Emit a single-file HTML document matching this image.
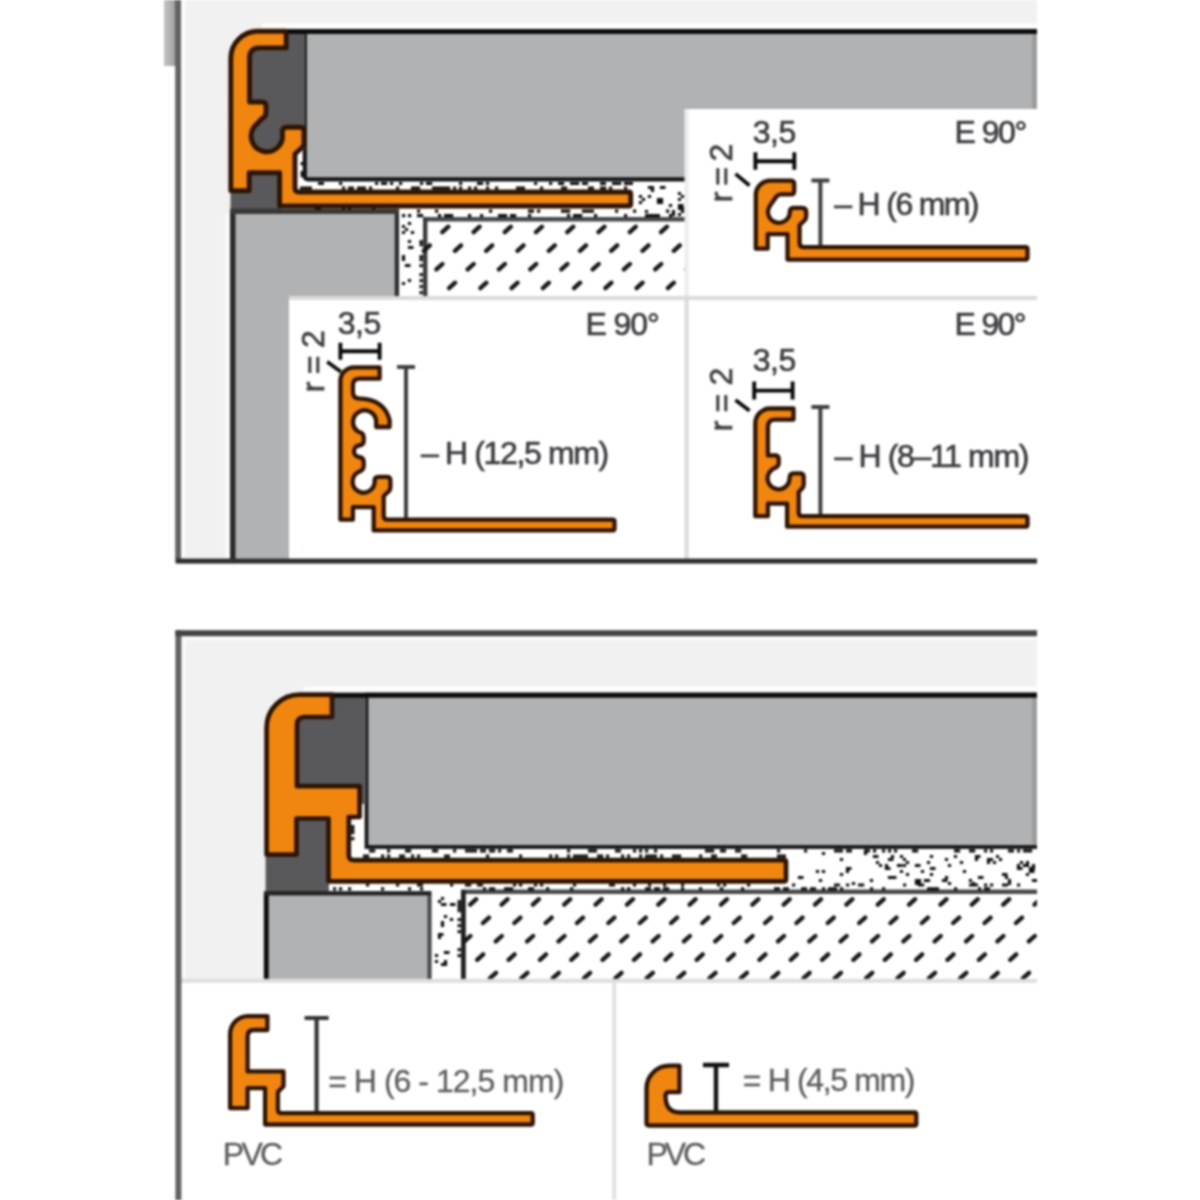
<!DOCTYPE html>
<html lang="en"><head><meta charset="utf-8"><title>Profile</title>
<style>
html,body{margin:0;padding:0;background:#fff;}
body{width:1200px;height:1200px;overflow:hidden;}
svg{display:block;}
text{font-family:"Liberation Sans",Arial,Helvetica,sans-serif;}
</style></head><body>
<svg width="1200" height="1200" viewBox="0 0 1200 1200">
<defs>
<linearGradient id="sh" x1="0" x2="1" y1="0" y2="0"><stop offset="0" stop-color="#c4c4c4"/><stop offset="0.6" stop-color="#a9a9a9"/><stop offset="1" stop-color="#6e6e6e"/></linearGradient>
<filter id="bl" color-interpolation-filters="sRGB" filterUnits="userSpaceOnUse" x="0" y="0" width="1200" height="1200"><feGaussianBlur stdDeviation="1.05"/></filter>
<clipPath id="c1"><rect x="179" y="0" width="858" height="561"/></clipPath>
<clipPath id="c2"><rect x="179" y="632" width="858" height="568"/></clipPath>
</defs>
<g filter="url(#bl)">
<rect width="1200" height="1200" fill="#fff"/>

<g id="top">
<rect x="179" y="0" width="858" height="561" fill="#f1f1f1"/>
<rect x="164" y="0" width="15" height="66" fill="url(#sh)"/>
<g clip-path="url(#c1)">
<path d="M296 148H306V181H700V300H398V208H296Z" fill="#fff"/>
<rect x="304.8" y="31" width="760" height="148.4" rx="3" fill="#b1b2b4" stroke="#161616" stroke-width="4.2"/>
<path d="M250 31H305V150H250Z" fill="#59595b"/>
<path d="M284 31.6H1040" stroke="#0c0c0c" stroke-width="5"/>
<path d="M262 25.8H1040" stroke="#fcfcfc" stroke-width="5"/>
<rect x="1032" y="34" width="6" height="76" fill="#000" opacity="0.13"/>
<path d="M230.5 172H281V211H230.5Z" fill="#59595b"/>
<rect x="225" y="214" width="5" height="346" fill="#fafafa"/>
<rect x="232.4" y="211" width="164.5" height="380" fill="#b1b2b4" stroke="#2e2e2e" stroke-width="4.4"/>
<path d="M232.8 211V561" stroke="#2a2a2a" stroke-width="5.4"/>
<path d="M230.2 211.4H399" stroke="#383838" stroke-width="5.4"/>
<path d="M423 219.2H700" fill="none" stroke="#484848" stroke-width="4.4"/>
<path d="M425.2 217V300" fill="none" stroke="#3a3a3a" stroke-width="4.4"/>
<path d="M442.3 232.1L448.3 226.7M473.6 232.1L479.6 226.7M504.8 232.1L510.8 226.7M536.0 232.1L542.0 226.7M567.3 232.1L573.3 226.7M598.5 232.1L604.5 226.7M629.8 232.1L635.8 226.7M661.0 232.1L667.0 226.7M423.8 250.8L429.8 245.4M455.0 250.8L461.0 245.4M486.2 250.8L492.2 245.4M517.5 250.8L523.5 245.4M548.8 250.8L554.8 245.4M580.0 250.8L586.0 245.4M611.2 250.8L617.2 245.4M642.5 250.8L648.5 245.4M673.8 250.8L679.8 245.4M436.4 269.4L442.4 264.0M467.7 269.4L473.7 264.0M498.9 269.4L504.9 264.0M530.2 269.4L536.2 264.0M561.4 269.4L567.4 264.0M592.7 269.4L598.7 264.0M623.9 269.4L629.9 264.0M655.2 269.4L661.2 264.0M686.4 269.4L692.4 264.0M449.1 288.1L455.1 282.7M480.4 288.1L486.4 282.7M511.6 288.1L517.6 282.7M542.9 288.1L548.9 282.7M574.1 288.1L580.1 282.7M605.4 288.1L611.4 282.7M636.6 288.1L642.6 282.7M667.9 288.1L673.9 282.7" stroke="#181818" stroke-width="4.3" stroke-linecap="round" fill="none"/>
<path d="M404.9 227.9h3.2v3.2h-3.2zM401.9 257.9h3.2v3.2h-3.2zM401.9 254.9h3.2v3.2h-3.2zM407.9 221.9h3.2v3.2h-3.2zM407.9 278.9h3.2v3.2h-3.2zM404.9 263.9h5.6v3.2h-5.6zM407.9 245.9h5.6v3.2h-5.6zM401.9 281.9h3.2v3.2h-3.2zM401.9 224.9h3.2v3.2h-3.2zM410.9 230.9h3.2v3.2h-3.2zM401.9 230.9h3.2v3.2h-3.2zM407.9 239.9h3.2v3.2h-3.2zM419.5 255.0h3.2v3.2h-3.2zM419.5 243.0h3.2v3.2h-3.2zM419.5 279.0h3.2v3.2h-3.2zM419.5 273.0h3.2v3.2h-3.2zM419.5 240.0h3.2v3.2h-3.2zM419.5 264.0h3.2v3.2h-3.2zM419.5 258.0h3.2v3.2h-3.2zM419.5 285.0h3.2v3.2h-3.2zM419.5 291.0h3.2v3.2h-3.2zM435.0 209.6h3.2v3.2h-3.2zM615.0 209.6h3.2v3.2h-3.2zM537.0 209.6h3.2v3.2h-3.2zM588.0 209.6h6.0v3.2h-6.0zM561.0 209.6h6.0v3.2h-6.0zM489.0 209.6h3.2v3.2h-3.2zM567.0 209.6h3.2v3.2h-3.2zM528.0 209.6h6.0v3.2h-6.0zM666.0 209.6h3.2v3.2h-3.2zM417.0 209.6h3.2v3.2h-3.2zM582.0 209.6h6.0v3.2h-6.0zM633.0 209.6h3.2v3.2h-3.2zM510.0 214.0h3.2v3.2h-3.2zM408.0 214.0h3.2v3.2h-3.2zM447.0 214.0h3.2v3.2h-3.2zM417.0 214.0h6.0v3.2h-6.0zM438.0 214.0h3.2v3.2h-3.2zM645.0 214.0h3.2v3.2h-3.2zM528.0 214.0h3.2v3.2h-3.2zM648.0 214.0h6.0v3.2h-6.0zM480.0 214.0h3.2v3.2h-3.2zM501.0 214.0h6.0v3.2h-6.0zM669.0 214.0h3.2v3.2h-3.2zM450.0 214.0h3.2v3.2h-3.2zM468.0 214.0h3.2v3.2h-3.2zM567.0 214.0h3.2v3.2h-3.2zM402.0 214.0h3.2v3.2h-3.2zM504.0 214.0h3.2v3.2h-3.2zM594.0 214.0h3.2v3.2h-3.2zM576.0 214.0h3.2v3.2h-3.2zM654.0 214.0h6.0v3.2h-6.0zM624.0 214.0h3.2v3.2h-3.2zM513.0 214.0h3.2v3.2h-3.2zM579.0 214.0h3.2v3.2h-3.2zM420.0 214.0h3.2v3.2h-3.2zM498.0 214.0h3.2v3.2h-3.2zM444.0 214.0h3.2v3.2h-3.2zM573.0 214.0h3.2v3.2h-3.2zM390.0 181.9h3.2v3.2h-3.2zM426.0 181.9h3.2v3.2h-3.2zM582.0 181.9h6.0v3.2h-6.0zM459.0 181.9h3.2v3.2h-3.2zM339.0 181.9h3.2v3.2h-3.2zM420.0 181.9h3.2v3.2h-3.2zM576.0 181.9h3.2v3.2h-3.2zM318.0 181.9h6.0v3.2h-6.0zM480.0 181.9h3.2v3.2h-3.2zM486.0 181.9h3.2v3.2h-3.2zM624.0 181.9h6.0v3.2h-6.0zM534.0 181.9h3.2v3.2h-3.2zM429.0 181.9h3.2v3.2h-3.2zM558.0 181.9h3.2v3.2h-3.2zM561.0 181.9h3.2v3.2h-3.2zM381.0 181.9h6.0v3.2h-6.0zM627.0 181.9h6.0v3.2h-6.0zM570.0 181.9h6.0v3.2h-6.0zM549.0 181.9h3.2v3.2h-3.2zM477.0 181.9h3.2v3.2h-3.2zM399.0 181.9h3.2v3.2h-3.2zM618.0 181.9h3.2v3.2h-3.2zM612.0 181.9h6.0v3.2h-6.0zM384.0 181.9h3.2v3.2h-3.2zM375.0 181.9h3.2v3.2h-3.2zM600.0 181.9h6.0v3.2h-6.0zM459.0 186.6h3.2v3.2h-3.2zM564.0 186.6h3.2v3.2h-3.2zM519.0 186.6h6.0v3.2h-6.0zM561.0 186.6h6.0v3.2h-6.0zM360.0 186.6h6.0v3.2h-6.0zM411.0 186.6h6.0v3.2h-6.0zM624.0 186.6h3.2v3.2h-3.2zM432.0 186.6h6.0v3.2h-6.0zM540.0 186.6h3.2v3.2h-3.2zM342.0 186.6h3.2v3.2h-3.2zM600.0 186.6h6.0v3.2h-6.0zM348.0 186.6h6.0v3.2h-6.0zM417.0 186.6h3.2v3.2h-3.2zM306.0 186.6h6.0v3.2h-6.0zM516.0 186.6h3.2v3.2h-3.2zM609.0 186.6h3.2v3.2h-3.2zM588.0 186.6h6.0v3.2h-6.0zM369.0 186.6h3.2v3.2h-3.2zM396.0 186.6h3.2v3.2h-3.2zM495.0 186.6h3.2v3.2h-3.2zM438.0 186.6h3.2v3.2h-3.2zM603.0 186.6h3.2v3.2h-3.2zM453.0 186.6h3.2v3.2h-3.2zM441.0 186.6h6.0v3.2h-6.0zM468.0 186.6h3.2v3.2h-3.2zM474.0 186.6h3.2v3.2h-3.2zM447.0 186.6h3.2v3.2h-3.2zM300.0 186.6h6.0v3.2h-6.0zM357.0 186.6h3.2v3.2h-3.2zM486.0 186.6h3.2v3.2h-3.2zM342.0 207.0h3.2v3.0h-3.2zM372.0 207.0h3.2v3.0h-3.2zM348.0 207.0h3.2v3.0h-3.2zM315.0 207.0h6.0v3.0h-6.0zM659.9 200.9h3.2v3.2h-3.2zM677.9 197.9h3.2v3.2h-3.2zM659.9 197.9h3.2v3.2h-3.2zM656.9 200.9h3.2v3.2h-3.2zM677.9 203.9h5.6v3.2h-5.6zM677.9 191.9h3.2v3.2h-3.2zM680.9 209.9h3.2v3.2h-3.2zM641.9 197.9h3.2v3.2h-3.2zM647.9 185.9h3.2v3.2h-3.2zM671.9 209.9h3.2v3.2h-3.2zM668.9 203.9h3.2v3.2h-3.2zM677.9 212.9h3.2v3.2h-3.2zM680.9 194.9h3.2v3.2h-3.2zM680.9 206.9h3.2v3.2h-3.2zM656.9 197.9h3.2v3.2h-3.2zM647.9 194.9h3.2v3.2h-3.2zM638.9 200.9h3.2v3.2h-3.2zM638.9 194.9h3.2v3.2h-3.2zM659.9 185.9h5.6v3.2h-5.6zM671.9 212.9h3.2v3.2h-3.2zM650.9 185.9h3.2v3.2h-3.2zM650.9 188.9h3.2v3.2h-3.2zM677.9 206.9h3.2v3.2h-3.2zM644.9 209.9h3.2v3.2h-3.2zM300.6 174.0h3.2v3.2h-3.2zM300.6 162.0h3.2v3.2h-3.2zM300.6 171.0h3.2v3.2h-3.2z" fill="#111"/>
<path d="M230.8 58 A27 27 0 0 1 258 31.2 H286.2 V47.9 H259.5 Q249.6 47.9 249.6 58 V102 H262 Q266 102 266 106 V112.5 Q266 117 262 118.5 L254 127 A15.7 15.7 0 1 0 282.4 134 V131 Q282.7 127.2 286.5 127.2 H300 Q304 127.2 304 131 V143 Q304 145.5 302 147.5 L295 154 V188 Q295 192 299 192 H629 Q630.7 192 630.7 194 V204 Q630.7 206 629 206 H279.6 V172.8 H249.2 V190.7 H230.8 Z" fill="#f0860f" stroke="#2e1402" stroke-width="4.9" stroke-linejoin="round"/>
</g>
<rect x="686" y="109" width="351" height="189" fill="#fff"/>
<rect x="289" y="298" width="748" height="261" fill="#fff"/>
<rect x="684.5" y="109" width="4.2" height="189" fill="#ededed"/>
<rect x="684.5" y="298" width="4.2" height="261" fill="#dcdcdc"/>
<rect x="289" y="296" width="748" height="4" fill="#dadada"/>
<rect x="181" y="0" width="4.5" height="557" fill="#fbfbfb"/>
<rect x="175.2" y="0" width="5.8" height="563" fill="#626262"/>
<rect x="176" y="558.6" width="861" height="5" fill="#2e2e2e"/>
<text x="954.50" y="143.0" font-size="32" textLength="72.70" lengthAdjust="spacing" fill="#3e3e40" stroke="#3e3e40" stroke-width="0.7">E 90°</text>
<text x="752.80" y="142.8" font-size="32" textLength="43.40" lengthAdjust="spacing" fill="#3e3e40" stroke="#3e3e40" stroke-width="0.7">3,5</text>
<path d="M755.4 161.2H794.3M755.4 152.2V169.7M794.3 152.2V169.7" stroke="#0a0a0a" stroke-width="3.9" fill="none"/>
<text transform="translate(731.5 202.20) rotate(-90)" font-size="32" textLength="58.50" lengthAdjust="spacing" fill="#3e3e40" stroke="#3e3e40" stroke-width="0.7">r = 2</text>
<path d="M735.5 173.8L749.5 185.5" stroke="#0a0a0a" stroke-width="3.6" fill="none"/>
<path d="M820.4 180V247.5M811.4 180.5H829.4" stroke="#404040" stroke-width="4.0" fill="none"/>
<text x="834.20" y="215.0" font-size="32" textLength="145.30" lengthAdjust="spacing" fill="#3e3e40" stroke="#3e3e40" stroke-width="0.7">– H (6 mm)</text>
<path d="M755.8 195 A14.5 14.5 0 0 1 770.3 180.6 H790.5 Q794.2 180.6 794.2 184 V191 Q794.2 194.4 791 194.4 H781 Q778.5 194.4 776.5 196.5 L770.6 204.8 A10.9 10.9 0 1 0 789.8 211.5 Q790 207.9 794 207.9 H802 Q806.2 207.9 806.2 212 V216 Q806.2 219 804 221 L799.6 225 V243 Q799.6 247.1 803.6 247.1 H1025.5 Q1027.5 247.1 1027.5 249 V257.6 Q1027.5 259.6 1025.5 259.6 H787.5 V234.2 H767.7 V248.7 H755.8 Z" fill="#f0860f" stroke="#2e1402" stroke-width="4.3" stroke-linejoin="round"/>
<text x="585.50" y="334.8" font-size="32" textLength="74.30" lengthAdjust="spacing" fill="#3e3e40" stroke="#3e3e40" stroke-width="0.7">E 90°</text>
<text x="337.80" y="334" font-size="32" textLength="43.40" lengthAdjust="spacing" fill="#3e3e40" stroke="#3e3e40" stroke-width="0.7">3,5</text>
<path d="M340.4 351.2H379.6M340.4 342.7V359.7M379.6 342.7V359.7" stroke="#0a0a0a" stroke-width="3.9" fill="none"/>
<text transform="translate(323.7 392.20) rotate(-90)" font-size="32" textLength="61.90" lengthAdjust="spacing" fill="#3e3e40" stroke="#3e3e40" stroke-width="0.7">r = 2</text>
<path d="M327.2 361.7L340.8 371.7" stroke="#0a0a0a" stroke-width="3.6" fill="none"/>
<path d="M406 366.5V520M397 367.0H415" stroke="#404040" stroke-width="4.0" fill="none"/>
<text x="421.10" y="463.5" font-size="32" textLength="188.00" lengthAdjust="spacing" fill="#3e3e40" stroke="#3e3e40" stroke-width="0.7">– H (12,5 mm)</text>
<path d="M340.4 381 A13.7 13.7 0 0 1 354 367.3 H379.6 V378.7 H360 Q352.9 378.7 352.9 385 V392 Q352.9 398.7 360 398.7 Q384 399.5 389.6 420 V427 H376.2 V421.5 A11.6 11.6 0 1 0 358 431.5 Q363.7 433 363.7 437 V441 Q363.7 445 359 445.5 A5.8 5.8 0 0 0 359 457 Q363.7 457.5 363.7 462 V466 Q363.7 470.5 357.5 472.5 A11 11 0 1 0 374.6 481 Q374.6 476.8 378.5 476.8 H387 Q390.4 476.8 390.4 480.5 V487.5 Q390.4 490 388.5 491.5 L383.7 496 V516 Q383.7 519.6 387.5 519.6 H612.5 Q614.5 519.6 614.5 521.5 V528.4 Q614.5 530.4 612.5 530.4 H373.7 V507.1 H352.9 V519.7 H340.4 Z" fill="#f0860f" stroke="#2e1402" stroke-width="4.3" stroke-linejoin="round"/>
<text x="954.50" y="334.8" font-size="32" textLength="72.00" lengthAdjust="spacing" fill="#3e3e40" stroke="#3e3e40" stroke-width="0.7">E 90°</text>
<text x="752.80" y="371.3" font-size="32" textLength="43.40" lengthAdjust="spacing" fill="#3e3e40" stroke="#3e3e40" stroke-width="0.7">3,5</text>
<path d="M754.2 390.6H792.6M754.2 381.6V399.6M792.6 381.6V399.6" stroke="#0a0a0a" stroke-width="3.9" fill="none"/>
<text transform="translate(731.5 431.30) rotate(-90)" font-size="32" textLength="63.50" lengthAdjust="spacing" fill="#3e3e40" stroke="#3e3e40" stroke-width="0.7">r = 2</text>
<path d="M735.5 400L749.5 410.8" stroke="#0a0a0a" stroke-width="3.6" fill="none"/>
<path d="M820.4 406.5V516M811.4 407.0H829.4" stroke="#404040" stroke-width="4.0" fill="none"/>
<text x="834.40" y="467.3" font-size="32" textLength="195.00" lengthAdjust="spacing" fill="#3e3e40" stroke="#3e3e40" stroke-width="0.7">– H (8–11 mm)</text>
<path d="M755.3 424 A15 15 0 0 1 770.3 408.5 H793.5 V419.6 H775 Q767.9 419.6 767.9 427 V455.4 H775 Q778.7 455.4 778.7 459 V463 Q778.7 467 773 468.8 A11 11 0 1 0 789.6 478 Q789.6 473.3 793.5 473.3 H800 Q803.7 473.3 803.7 477 V484.5 Q803.7 487 802 488.5 L798.7 492 V512.5 Q798.7 516.2 802.5 516.2 H1025.5 Q1027.5 516.2 1027.5 518 V524.7 Q1027.5 526.7 1025.5 526.7 H787.1 V503.7 H767.9 V516.2 H755.3 Z" fill="#f0860f" stroke="#2e1402" stroke-width="4.3" stroke-linejoin="round"/>
</g>
<g id="bottom">
<rect x="179" y="632" width="858" height="349" fill="#f1f1f1"/>
<g clip-path="url(#c2)">
<path d="M350 804H368V848H1040V981H431V895H329V860H350Z" fill="#fff"/>
<rect x="366.5" y="694.6" width="700" height="152.4" fill="#b1b2b4" stroke="#161616" stroke-width="3.8"/>
<path d="M297 694H366V804H297Z" fill="#59595b"/>
<path d="M330 695.2H1040" stroke="#0c0c0c" stroke-width="5"/>
<path d="M304 688.8H1040" stroke="#fcfcfc" stroke-width="5"/>
<rect x="1032" y="698" width="6" height="148" fill="#000" opacity="0.13"/>
<path d="M265.6 818H329V894H265.6Z" fill="#59595b"/>
<rect x="266" y="893.3" width="163.5" height="120" fill="#b1b2b4" stroke="#4a4a4a" stroke-width="4.2"/>
<path d="M266.3 893V981" stroke="#0c0c0c" stroke-width="4.8"/>
<path d="M264 893.3H431" stroke="#222" stroke-width="4"/>
<path d="M461 891.8H1040" fill="none" stroke="#484848" stroke-width="4.6"/>
<path d="M463.4 890V981" fill="none" stroke="#202020" stroke-width="4.8"/>
<path d="M470.2 904.6L476.2 899.2M501.6 904.6L507.6 899.2M532.9 904.6L538.9 899.2M564.2 904.6L570.2 899.2M595.6 904.6L601.6 899.2M627.0 904.6L633.0 899.2M658.3 904.6L664.3 899.2M689.6 904.6L695.6 899.2M721.0 904.6L727.0 899.2M752.4 904.6L758.4 899.2M783.7 904.6L789.7 899.2M815.0 904.6L821.0 899.2M846.4 904.6L852.4 899.2M877.8 904.6L883.8 899.2M909.1 904.6L915.1 899.2M940.5 904.6L946.5 899.2M971.8 904.6L977.8 899.2M1003.2 904.6L1009.2 899.2M1034.5 904.6L1040.5 899.2M483.0 923.0L489.0 917.6M514.4 923.0L520.4 917.6M545.7 923.0L551.7 917.6M577.0 923.0L583.0 917.6M608.4 923.0L614.4 917.6M639.8 923.0L645.8 917.6M671.1 923.0L677.1 917.6M702.4 923.0L708.4 917.6M733.8 923.0L739.8 917.6M765.1 923.0L771.1 917.6M796.5 923.0L802.5 917.6M827.8 923.0L833.8 917.6M859.2 923.0L865.2 917.6M890.5 923.0L896.5 917.6M921.9 923.0L927.9 917.6M953.2 923.0L959.2 917.6M984.6 923.0L990.6 917.6M1016.0 923.0L1022.0 917.6M464.4 941.4L470.4 936.0M495.8 941.4L501.8 936.0M527.1 941.4L533.1 936.0M558.5 941.4L564.5 936.0M589.9 941.4L595.9 936.0M621.2 941.4L627.2 936.0M652.6 941.4L658.6 936.0M683.9 941.4L689.9 936.0M715.2 941.4L721.2 936.0M746.6 941.4L752.6 936.0M778.0 941.4L784.0 936.0M809.3 941.4L815.3 936.0M840.6 941.4L846.6 936.0M872.0 941.4L878.0 936.0M903.4 941.4L909.4 936.0M934.7 941.4L940.7 936.0M966.1 941.4L972.1 936.0M997.4 941.4L1003.4 936.0M1028.8 941.4L1034.8 936.0M477.2 959.8L483.2 954.4M508.6 959.8L514.6 954.4M540.0 959.8L546.0 954.4M571.3 959.8L577.3 954.4M602.6 959.8L608.6 954.4M634.0 959.8L640.0 954.4M665.4 959.8L671.4 954.4M696.7 959.8L702.7 954.4M728.0 959.8L734.0 954.4M759.4 959.8L765.4 954.4M790.8 959.8L796.8 954.4M822.1 959.8L828.1 954.4M853.4 959.8L859.4 954.4M884.8 959.8L890.8 954.4M916.1 959.8L922.1 954.4M947.5 959.8L953.5 954.4M978.9 959.8L984.9 954.4M1010.2 959.8L1016.2 954.4M490.0 978.2L496.0 972.8M521.4 978.2L527.4 972.8M552.8 978.2L558.8 972.8M584.1 978.2L590.1 972.8M615.5 978.2L621.5 972.8M646.8 978.2L652.8 972.8M678.2 978.2L684.2 972.8M709.5 978.2L715.5 972.8M740.9 978.2L746.9 972.8M772.2 978.2L778.2 972.8M803.6 978.2L809.6 972.8M834.9 978.2L840.9 972.8M866.2 978.2L872.2 972.8M897.6 978.2L903.6 972.8M929.0 978.2L935.0 972.8M960.3 978.2L966.3 972.8M991.7 978.2L997.7 972.8M1023.0 978.2L1029.0 972.8" stroke="#181818" stroke-width="4.3" stroke-linecap="round" fill="none"/>
<path d="M440.9 902.9h5.6v3.2h-5.6zM443.9 959.9h3.2v3.2h-3.2zM449.9 902.9h5.6v3.2h-5.6zM440.9 923.9h3.2v3.2h-3.2zM449.9 917.9h3.2v3.2h-3.2zM443.9 914.9h3.2v3.2h-3.2zM437.9 899.9h3.2v3.2h-3.2zM440.9 920.9h3.2v3.2h-3.2zM437.9 935.9h3.2v3.2h-3.2zM440.9 896.9h3.2v3.2h-3.2zM434.9 953.9h3.2v3.2h-3.2zM437.9 932.9h5.6v3.2h-5.6zM434.9 959.9h3.2v3.2h-3.2zM443.9 962.9h3.2v3.2h-3.2zM443.9 950.9h5.6v3.2h-5.6zM440.9 962.9h3.2v3.2h-3.2zM457.6 948.0h3.2v3.2h-3.2zM457.6 930.0h3.2v3.2h-3.2zM457.6 924.0h3.2v3.2h-3.2zM457.6 900.0h3.2v3.2h-3.2zM457.6 906.0h3.2v3.2h-3.2zM457.6 903.0h3.2v3.2h-3.2zM457.6 954.0h3.2v3.2h-3.2zM457.6 918.0h3.2v3.2h-3.2zM457.6 909.0h3.2v3.2h-3.2zM405.0 849.2h6.0v3.2h-6.0zM735.0 849.2h3.2v3.2h-3.2zM489.0 849.2h3.2v3.2h-3.2zM492.0 849.2h3.2v3.2h-3.2zM435.0 849.2h3.2v3.2h-3.2zM480.0 849.2h6.0v3.2h-6.0zM777.0 849.2h3.2v3.2h-3.2zM471.0 849.2h6.0v3.2h-6.0zM498.0 849.2h3.2v3.2h-3.2zM369.0 849.2h3.2v3.2h-3.2zM567.0 849.2h3.2v3.2h-3.2zM453.0 849.2h3.2v3.2h-3.2zM372.0 849.2h3.2v3.2h-3.2zM408.0 849.2h3.2v3.2h-3.2zM387.0 849.2h3.2v3.2h-3.2zM468.0 849.2h3.2v3.2h-3.2zM591.0 849.2h6.0v3.2h-6.0zM645.0 849.2h3.2v3.2h-3.2zM738.0 849.2h3.2v3.2h-3.2zM507.0 849.2h6.0v3.2h-6.0zM432.0 849.2h3.2v3.2h-3.2zM639.0 849.2h3.2v3.2h-3.2zM720.0 849.2h6.0v3.2h-6.0zM633.0 849.2h3.2v3.2h-3.2zM711.0 849.2h3.2v3.2h-3.2zM588.0 849.2h3.2v3.2h-3.2zM705.0 849.2h6.0v3.2h-6.0zM615.0 849.2h6.0v3.2h-6.0zM654.0 849.2h3.2v3.2h-3.2zM465.0 849.2h3.2v3.2h-3.2zM411.0 854.6h3.2v3.2h-3.2zM399.0 854.6h6.0v3.2h-6.0zM597.0 854.6h3.2v3.2h-3.2zM627.0 854.6h3.2v3.2h-3.2zM567.0 854.6h3.2v3.2h-3.2zM699.0 854.6h3.2v3.2h-3.2zM573.0 854.6h3.2v3.2h-3.2zM639.0 854.6h3.2v3.2h-3.2zM675.0 854.6h3.2v3.2h-3.2zM387.0 854.6h3.2v3.2h-3.2zM672.0 854.6h3.2v3.2h-3.2zM777.0 854.6h3.2v3.2h-3.2zM519.0 854.6h3.2v3.2h-3.2zM651.0 854.6h6.0v3.2h-6.0zM621.0 854.6h3.2v3.2h-3.2zM417.0 854.6h3.2v3.2h-3.2zM678.0 854.6h3.2v3.2h-3.2zM600.0 854.6h3.2v3.2h-3.2zM381.0 854.6h3.2v3.2h-3.2zM645.0 854.6h3.2v3.2h-3.2zM648.0 854.6h3.2v3.2h-3.2zM579.0 854.6h3.2v3.2h-3.2zM555.0 854.6h3.2v3.2h-3.2zM741.0 854.6h3.2v3.2h-3.2zM780.0 854.6h6.0v3.2h-6.0zM363.0 854.6h3.2v3.2h-3.2zM711.0 854.6h6.0v3.2h-6.0zM549.0 854.6h3.2v3.2h-3.2zM444.0 854.6h6.0v3.2h-6.0zM606.0 854.6h3.2v3.2h-3.2zM582.0 854.6h6.0v3.2h-6.0zM576.0 854.6h6.0v3.2h-6.0zM660.0 854.6h3.2v3.2h-3.2zM744.0 854.6h3.2v3.2h-3.2zM366.0 854.6h3.2v3.2h-3.2zM486.0 854.6h3.2v3.2h-3.2zM573.0 883.4h3.2v3.2h-3.2zM921.0 883.4h3.2v3.2h-3.2zM858.0 883.4h6.0v3.2h-6.0zM417.0 883.4h6.0v3.2h-6.0zM834.0 883.4h6.0v3.2h-6.0zM534.0 883.4h3.2v3.2h-3.2zM609.0 883.4h6.0v3.2h-6.0zM747.0 883.4h3.2v3.2h-3.2zM633.0 883.4h3.2v3.2h-3.2zM366.0 883.4h3.2v3.2h-3.2zM918.0 883.4h3.2v3.2h-3.2zM990.0 883.4h3.2v3.2h-3.2zM519.0 883.4h3.2v3.2h-3.2zM465.0 883.4h3.2v3.2h-3.2zM1002.0 883.4h6.0v3.2h-6.0zM903.0 883.4h3.2v3.2h-3.2zM972.0 883.4h6.0v3.2h-6.0zM717.0 883.4h3.2v3.2h-3.2zM846.0 883.4h3.2v3.2h-3.2zM861.0 883.4h3.2v3.2h-3.2zM984.0 883.4h3.2v3.2h-3.2zM663.0 883.4h3.2v3.2h-3.2zM540.0 883.4h3.2v3.2h-3.2zM1017.0 883.4h3.2v3.2h-3.2zM792.0 883.4h3.2v3.2h-3.2zM723.0 883.4h3.2v3.2h-3.2zM450.0 883.4h3.2v3.2h-3.2zM477.0 883.4h6.0v3.2h-6.0zM681.0 883.4h3.2v3.2h-3.2zM969.0 883.4h6.0v3.2h-6.0zM648.0 883.4h3.2v3.2h-3.2zM468.0 883.4h3.2v3.2h-3.2zM396.0 883.4h3.2v3.2h-3.2zM513.0 883.4h3.2v3.2h-3.2zM954.0 887.2h3.2v3.2h-3.2zM621.0 887.2h3.2v3.2h-3.2zM699.0 887.2h3.2v3.2h-3.2zM570.0 887.2h3.2v3.2h-3.2zM528.0 887.2h6.0v3.2h-6.0zM420.0 887.2h3.2v3.2h-3.2zM774.0 887.2h6.0v3.2h-6.0zM483.0 887.2h3.2v3.2h-3.2zM507.0 887.2h3.2v3.2h-3.2zM645.0 887.2h6.0v3.2h-6.0zM927.0 887.2h6.0v3.2h-6.0zM348.0 887.2h3.2v3.2h-3.2zM831.0 887.2h6.0v3.2h-6.0zM663.0 887.2h3.2v3.2h-3.2zM333.0 887.2h3.2v3.2h-3.2zM984.0 887.2h6.0v3.2h-6.0zM933.0 887.2h6.0v3.2h-6.0zM408.0 887.2h3.2v3.2h-3.2zM810.0 887.2h6.0v3.2h-6.0zM840.0 887.2h3.2v3.2h-3.2zM870.0 887.2h3.2v3.2h-3.2zM720.0 887.2h3.2v3.2h-3.2zM882.0 887.2h3.2v3.2h-3.2zM978.0 887.2h3.2v3.2h-3.2zM546.0 887.2h3.2v3.2h-3.2zM510.0 887.2h3.2v3.2h-3.2zM822.0 887.2h3.2v3.2h-3.2zM381.0 887.2h3.2v3.2h-3.2zM741.0 887.2h3.2v3.2h-3.2zM489.0 887.2h3.2v3.2h-3.2zM339.0 887.2h3.2v3.2h-3.2zM654.0 887.2h6.0v3.2h-6.0zM783.0 887.2h6.0v3.2h-6.0zM666.0 887.2h3.2v3.2h-3.2zM504.0 887.2h6.0v3.2h-6.0zM828.0 887.2h3.2v3.2h-3.2zM681.0 887.2h3.2v3.2h-3.2zM627.0 887.2h3.2v3.2h-3.2zM801.0 887.2h6.0v3.2h-6.0zM492.0 887.2h3.2v3.2h-3.2zM873.0 849.2h3.2v3.2h-3.2zM957.0 849.2h3.2v3.2h-3.2zM984.0 849.2h3.2v3.2h-3.2zM915.0 849.2h3.2v3.2h-3.2zM1026.0 849.2h3.2v3.2h-3.2zM990.0 849.2h3.2v3.2h-3.2zM846.0 849.2h6.0v3.2h-6.0zM864.0 849.2h6.0v3.2h-6.0zM912.0 849.2h3.2v3.2h-3.2zM894.0 849.2h3.2v3.2h-3.2zM1023.0 849.2h3.2v3.2h-3.2zM888.0 849.2h3.2v3.2h-3.2zM1029.0 849.2h3.2v3.2h-3.2zM804.0 849.2h3.2v3.2h-3.2zM1008.0 849.2h6.0v3.2h-6.0zM969.0 849.2h6.0v3.2h-6.0zM1017.0 849.2h3.2v3.2h-3.2zM837.0 849.2h6.0v3.2h-6.0zM972.0 849.2h3.2v3.2h-3.2zM954.0 849.2h3.2v3.2h-3.2zM882.0 849.2h3.2v3.2h-3.2zM834.0 849.2h3.2v3.2h-3.2zM896.9 863.9h5.6v3.2h-5.6zM851.9 881.9h3.2v3.2h-3.2zM914.9 878.9h5.6v3.2h-5.6zM929.9 854.9h3.2v3.2h-3.2zM917.9 881.9h3.2v3.2h-3.2zM914.9 881.9h3.2v3.2h-3.2zM926.9 878.9h3.2v3.2h-3.2zM821.9 851.9h3.2v3.2h-3.2zM1019.9 860.9h3.2v3.2h-3.2zM1016.9 863.9h3.2v3.2h-3.2zM1025.9 872.9h3.2v3.2h-3.2zM986.9 860.9h3.2v3.2h-3.2zM797.9 875.9h5.6v3.2h-5.6zM971.9 881.9h3.2v3.2h-3.2zM884.9 866.9h5.6v3.2h-5.6zM1025.9 863.9h3.2v3.2h-3.2zM929.9 866.9h5.6v3.2h-5.6zM869.9 878.9h3.2v3.2h-3.2zM1004.9 875.9h3.2v3.2h-3.2zM905.9 860.9h3.2v3.2h-3.2zM995.9 854.9h3.2v3.2h-3.2zM992.9 860.9h3.2v3.2h-3.2zM815.9 869.9h3.2v3.2h-3.2zM1031.9 878.9h5.6v3.2h-5.6zM890.9 854.9h3.2v3.2h-3.2zM944.9 875.9h3.2v3.2h-3.2zM884.9 863.9h3.2v3.2h-3.2zM977.9 875.9h5.6v3.2h-5.6zM974.9 854.9h5.6v3.2h-5.6zM899.9 869.9h3.2v3.2h-3.2zM989.9 857.9h3.2v3.2h-3.2zM887.9 857.9h5.6v3.2h-5.6zM959.9 860.9h3.2v3.2h-3.2zM1031.9 866.9h3.2v3.2h-3.2zM1001.9 872.9h5.6v3.2h-5.6zM845.9 866.9h5.6v3.2h-5.6zM1007.9 881.9h3.2v3.2h-3.2zM899.9 854.9h3.2v3.2h-3.2zM1028.9 869.9h5.6v3.2h-5.6zM917.9 878.9h3.2v3.2h-3.2zM890.9 875.9h5.6v3.2h-5.6zM845.9 869.9h3.2v3.2h-3.2zM878.9 863.9h3.2v3.2h-3.2zM875.9 860.9h3.2v3.2h-3.2zM974.9 857.9h3.2v3.2h-3.2zM905.9 872.9h3.2v3.2h-3.2zM902.9 857.9h3.2v3.2h-3.2zM953.9 854.9h3.2v3.2h-3.2zM920.9 869.9h3.2v3.2h-3.2zM839.9 857.9h3.2v3.2h-3.2zM926.9 860.9h3.2v3.2h-3.2zM1025.9 860.9h3.2v3.2h-3.2zM914.9 863.9h5.6v3.2h-5.6zM1031.9 863.9h3.2v3.2h-3.2zM986.9 857.9h3.2v3.2h-3.2zM1016.9 866.9h5.6v3.2h-5.6zM923.9 878.9h3.2v3.2h-3.2zM863.9 851.9h3.2v3.2h-3.2zM839.9 872.9h3.2v3.2h-3.2zM944.9 857.9h3.2v3.2h-3.2zM947.9 881.9h3.2v3.2h-3.2zM941.9 878.9h5.6v3.2h-5.6zM872.9 854.9h5.6v3.2h-5.6zM1028.9 866.9h3.2v3.2h-3.2zM1022.9 863.9h5.6v3.2h-5.6zM968.9 878.9h3.2v3.2h-3.2zM998.9 857.9h3.2v3.2h-3.2zM1007.9 878.9h3.2v3.2h-3.2zM947.9 863.9h3.2v3.2h-3.2zM887.9 875.9h5.6v3.2h-5.6zM821.9 869.9h3.2v3.2h-3.2zM818.9 878.9h3.2v3.2h-3.2zM962.9 869.9h3.2v3.2h-3.2zM902.9 863.9h3.2v3.2h-3.2zM929.9 872.9h3.2v3.2h-3.2zM351.2 825.0h3.2v3.2h-3.2zM351.2 810.0h3.2v3.2h-3.2zM351.2 831.0h3.2v3.2h-3.2zM351.2 828.0h3.2v3.2h-3.2zM351.2 816.0h3.2v3.2h-3.2zM351.2 837.0h3.2v3.2h-3.2zM351.2 813.0h3.2v3.2h-3.2z" fill="#111"/>
<path d="M266.6 728 A33 33 0 0 1 300 694.6 H332 V717 H305 Q297 717 297 725 V786.2 H359.6 V817 H348.8 V855 Q348.8 860.2 354 860.2 H784 Q786 860.2 786 862 V879.5 Q786 881.3 784 881.3 H328.5 V818.5 H296.5 V854.6 H266.6 Z" fill="#f0860f" stroke="#2e1402" stroke-width="4.7" stroke-linejoin="round"/>
</g>
<rect x="179" y="981" width="858" height="219" fill="#fff"/>
<rect x="181" y="978.8" width="856" height="4" fill="#dedede"/>
<rect x="612.3" y="981" width="4" height="219" fill="#e0e0e0"/>
<rect x="181" y="636" width="4.5" height="342" fill="#fbfbfb"/>
<rect x="181" y="636" width="856" height="4" fill="#fbfbfb"/>
<rect x="175.4" y="630" width="6" height="570" fill="#626262"/>
<rect x="175.4" y="630.2" width="861.6" height="6" fill="#444"/>
<path d="M316.6 1017.5V1113.5M304.6 1018.0H328.6" stroke="#333" stroke-width="4.2" fill="none"/>
<text x="328.20" y="1091.7" font-size="32" textLength="236.10" lengthAdjust="spacing" fill="#5c5c5e" stroke="#5c5c5e" stroke-width="0.3">= H (6 - 12,5 mm)</text>
<text x="222.80" y="1164.8" font-size="32" textLength="60.40" lengthAdjust="spacing" fill="#5c5c5e" stroke="#5c5c5e" stroke-width="0.3">PVC</text>
<path d="M230.1 1034.5 A18 18 0 0 1 248 1016.1 H267.4 V1030 H254 Q247.6 1030 247.6 1036 V1071.4 H283.5 V1086.3 L277.9 1092 V1109.5 Q277.9 1113.2 281.5 1113.2 H531 Q532.7 1113.2 532.7 1115 V1122.7 Q532.7 1124.5 531 1124.5 H265.1 V1088.1 H247.6 V1108.2 H230.1 Z" fill="#f0860f" stroke="#2e1402" stroke-width="4.3" stroke-linejoin="round"/>
<path d="M716 1064.5V1113M703 1065.0H729" stroke="#111" stroke-width="4.4" fill="none"/>
<text x="742.80" y="1091.4" font-size="32" textLength="172.70" lengthAdjust="spacing" fill="#5c5c5e" stroke="#5c5c5e" stroke-width="0.3">= H (4,5 mm)</text>
<text x="646.50" y="1164.8" font-size="32" textLength="59.50" lengthAdjust="spacing" fill="#5c5c5e" stroke="#5c5c5e" stroke-width="0.3">PVC</text>
<path d="M646.5 1089 A23 23 0 0 1 669.5 1065.7 H679.5 V1092.2 H669 Q665.5 1092.2 665.5 1096 Q665.5 1112.5 680 1112.5 H914.5 Q916.3 1112.5 916.3 1114.3 V1123.7 Q916.3 1125.5 914.5 1125.5 H649 Q646.5 1125.5 646.5 1123 Z" fill="#f0860f" stroke="#2e1402" stroke-width="4.3" stroke-linejoin="round"/>
</g>
</g></svg></body></html>
